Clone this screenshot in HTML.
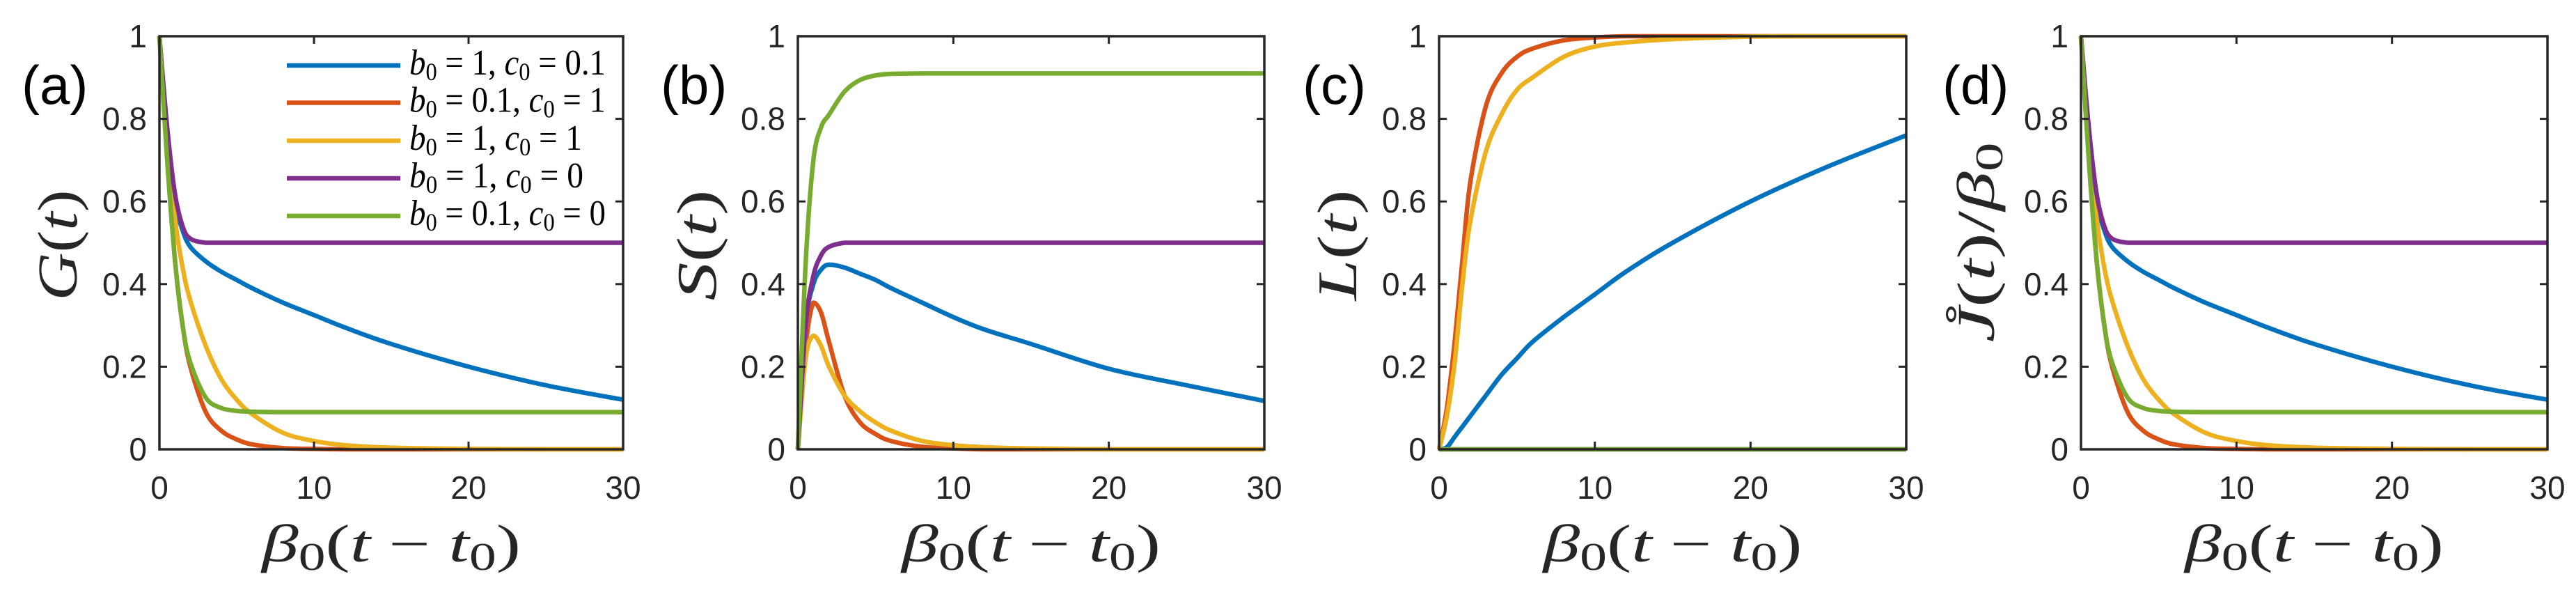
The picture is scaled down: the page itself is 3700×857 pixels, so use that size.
<!DOCTYPE html>
<html><head><meta charset="utf-8">
<style>
html,body{margin:0;padding:0;background:#fff;}
svg{display:block;}
</style></head>
<body>
<svg id="fig" width="3700" height="857" viewBox="0 0 3700 857" xmlns="http://www.w3.org/2000/svg"></svg>
<script>
// ---- data ----
const tSamples = [0,0.5,1,1.5,2,3,4,5,6,8,10,12,15,20,25,30];
const xTicks = [0,10,20,30];
const yTicks = [0,0.2,0.4,0.6,0.8,1];
const yTickLabels = ["0","0.2","0.4","0.6","0.8","1"];
const seriesNames = ["b0=1,c0=0.1","b0=0.1,c0=1","b0=1,c0=1","b0=1,c0=0","b0=0.1,c0=0"];
// Panel (a) G(t)
const gBlue   = [1,0.75,0.6,0.53,0.49,0.455,0.43,0.41,0.39,0.355,0.325,0.295,0.255,0.2,0.155,0.12];
const gRed    = [1,0.72,0.46,0.3,0.2,0.09,0.045,0.024,0.012,0.003,0.001,0,0,0,0,0];
const gYellow = [1,0.75,0.56,0.44,0.36,0.25,0.17,0.12,0.085,0.04,0.02,0.01,0.004,0.001,0,0];
const gPurple = [1,0.78,0.62,0.54,0.51,0.5,0.5,0.5,0.5,0.5,0.5,0.5,0.5,0.5,0.5,0.5];
const gGreen  = [1,0.7,0.46,0.3,0.21,0.125,0.1,0.093,0.091,0.09,0.09,0.09,0.09,0.09,0.09,0.09];
// Panel (b) S(t)
const sBlue   = [0,0.3,0.4,0.435,0.447,0.44,0.425,0.41,0.39,0.355,0.32,0.29,0.255,0.195,0.155,0.117];
const sRed    = [0,0.25,0.355,0.33,0.26,0.13,0.065,0.037,0.02,0.006,0.002,0,0,0,0,0];
const sYellow = [0,0.22,0.275,0.25,0.2,0.13,0.092,0.065,0.045,0.02,0.01,0.005,0.002,0,0,0];
const sPurple = [0,0.3,0.42,0.47,0.49,0.5,0.5,0.5,0.5,0.5,0.5,0.5,0.5,0.5,0.5,0.5];
const sGreen  = [0,0.45,0.7,0.78,0.81,0.866,0.894,0.905,0.909,0.91,0.91,0.91,0.91,0.91,0.91,0.91];
// Panel (c) L(t)
const lBlue   = [0,0.005,0.03,0.055,0.08,0.13,0.18,0.22,0.26,0.32,0.375,0.43,0.5,0.6,0.685,0.76];
const lRed    = [0,0.1,0.26,0.46,0.645,0.83,0.91,0.95,0.97,0.99,0.997,1,1,1,1,1];
const lYellow = [0,0.08,0.21,0.4,0.55,0.72,0.81,0.87,0.9,0.95,0.975,0.985,0.993,0.999,1,1];
const lPurple = [0,0,0,0,0,0,0,0,0,0,0,0,0,0,0,0];
const lGreen  = [0,0,0,0,0,0,0,0,0,0,0,0,0,0,0,0];
// Panel (d) J(t)/beta0
const jBlue   = [1,0.75,0.6,0.53,0.49,0.455,0.43,0.41,0.39,0.355,0.325,0.295,0.255,0.2,0.155,0.12];
const jRed    = [1,0.72,0.46,0.3,0.2,0.09,0.045,0.024,0.012,0.003,0.001,0,0,0,0,0];
const jYellow = [1,0.75,0.56,0.44,0.36,0.25,0.17,0.12,0.085,0.04,0.02,0.01,0.004,0.001,0,0];
const jPurple = [1,0.78,0.62,0.54,0.51,0.5,0.5,0.5,0.5,0.5,0.5,0.5,0.5,0.5,0.5,0.5];
const jGreen  = [1,0.7,0.46,0.3,0.21,0.125,0.1,0.093,0.091,0.09,0.09,0.09,0.09,0.09,0.09,0.09];

const colors = ["#0072BD","#D95319","#EDB120","#7E2F8E","#77AC30"];
const NS = "http://www.w3.org/2000/svg";
const svg = document.getElementById('fig');
function mk(tag, attrs, parent){
  const e = document.createElementNS(NS, tag);
  for (const k in attrs) e.setAttribute(k, attrs[k]);
  (parent||svg).appendChild(e);
  return e;
}
const T = 52, B = 645;
const panels = [
  {id:"a", L:229, R:895, series:[gBlue,gRed,gYellow,gPurple,gGreen], yl:"G", ylx:110, lbx:31},
  {id:"b", L:1146, R:1816, series:[sBlue,sRed,sYellow,sPurple,sGreen], yl:"S", ylx:1028, lbx:949},
  {id:"c", L:2067, R:2738, series:[lBlue,lRed,lYellow,lPurple,lGreen], yl:"L", ylx:1948, lbx:1871},
  {id:"d", L:2989, R:3659, series:[jBlue,jRed,jYellow,jPurple,jGreen], yl:"J", ylx:2864, lbx:2790}
];
function pathFrom(pts){
  let d = "M"+pts[0][0].toFixed(1)+","+pts[0][1].toFixed(1);
  for (let i=0;i<pts.length-1;i++){
    const p0=pts[Math.max(0,i-1)], p1=pts[i], p2=pts[i+1], p3=pts[Math.min(pts.length-1,i+2)];
    let c1x=p1[0]+(p2[0]-p0[0])/6, c1y=p1[1]+(p2[1]-p0[1])/6;
    let c2x=p2[0]-(p3[0]-p1[0])/6, c2y=p2[1]-(p3[1]-p1[1])/6;
    c1y=Math.min(Math.max(c1y,Math.min(p1[1],p2[1])),Math.max(p1[1],p2[1]));
    c2y=Math.min(Math.max(c2y,Math.min(p1[1],p2[1])),Math.max(p1[1],p2[1]));
    d+=" C"+c1x.toFixed(1)+","+c1y.toFixed(1)+" "+c2x.toFixed(1)+","+c2y.toFixed(1)+" "+p2[0].toFixed(1)+","+p2[1].toFixed(1);
  }
  return d;
}
const serif = '"Liberation Serif", serif';
const sans = '"Liberation Sans", sans-serif';
panels.forEach(p=>{
  const g = mk('g',{});
  
  
  const xs = v => p.L + (v/30)*(p.R-p.L);
  const ys = v => B - v*(B-T);
  p.series.forEach((arr,si)=>{
    const pts = tSamples.map((t,i)=>[xs(t), ys(arr[i])]);
    const path = mk('path',{d:pathFrom(pts), fill:"none", stroke:colors[si], "stroke-width":6.5, "stroke-linejoin":"round"}, g);
    
    
  });
  const box = mk('rect',{x:p.L,y:T,width:p.R-p.L,height:B-T,fill:"none",stroke:"#262626","stroke-width":3.5}, g);
  
  
  xTicks.forEach(v=>{
    const x=xs(v);
    mk('line',{x1:x,y1:B,x2:x,y2:B-11,stroke:"#262626","stroke-width":3},g);
    mk('line',{x1:x,y1:T,x2:x,y2:T+11,stroke:"#262626","stroke-width":3},g);
    const t = mk('text',{x:x,y:716,"text-anchor":"middle","font-family":sans,"font-size":46,fill:"#262626"},g);
    
    
    t.textContent = String(v);
  });
  yTicks.forEach((v,i)=>{
    const y=ys(v);
    mk('line',{x1:p.L,y1:y,x2:p.L+11,y2:y,stroke:"#262626","stroke-width":3},g);
    mk('line',{x1:p.R,y1:y,x2:p.R-11,y2:y,stroke:"#262626","stroke-width":3},g);
    const t = mk('text',{x:p.L-18,y:y+16,"text-anchor":"end","font-family":sans,"font-size":46,fill:"#262626"},g);
    
    
    t.textContent = yTickLabels[i];
  });
  const cx=(p.L+p.R)/2;
  const xl = mk('text',{x:cx-186,y:806,"font-family":serif,"font-size":76,fill:"#262626",textLength:372,lengthAdjust:"spacingAndGlyphs"},g);
  
  
  xl.innerHTML = '<tspan font-style="italic">β</tspan><tspan font-size="56" dy="12">0</tspan><tspan dy="-12">(</tspan><tspan font-style="italic">t</tspan> − <tspan font-style="italic">t</tspan><tspan font-size="56" dy="12">0</tspan><tspan dy="-12">)</tspan>';
  let yl;
  if (p.yl==="J"){
    yl = mk('text',{x:0,y:0,transform:"translate("+p.ylx+",348) rotate(-90)","text-anchor":"middle","font-family":serif,"font-size":76,fill:"#262626",textLength:287,lengthAdjust:"spacingAndGlyphs"},g);
    yl.innerHTML = '<tspan font-style="italic">J̊</tspan>(<tspan font-style="italic">t</tspan>)/<tspan font-style="italic">β</tspan><tspan font-size="56" dy="12">0</tspan>';
  } else {
    yl = mk('text',{x:0,y:0,transform:"translate("+p.ylx+",352) rotate(-90)","text-anchor":"middle","font-family":serif,"font-size":80,fill:"#262626",textLength:159,lengthAdjust:"spacingAndGlyphs"},g);
    yl.innerHTML = '<tspan font-style="italic">'+p.yl+'</tspan>(<tspan font-style="italic">t</tspan>)';
  }
  
  
  const pl = mk('text',{x:p.lbx,y:149,"font-family":sans,"font-size":78,fill:"#000"},g);
  
  
  pl.textContent = "("+p.id+")";
});
const legendRows = [94,147.5,202,256,310];
const legendB = ["1","0.1","1","1","0.1"];
const legendC = ["0.1","1","1","0","0"];
const legendW = [282,282,248,250,282];
const lg = mk('g',{});


legendRows.forEach((y,i)=>{
  const e = mk('g',{},lg);
  
  
  mk('line',{x1:412,y1:y,x2:575,y2:y,stroke:colors[i],"stroke-width":6.5},e);
  const t = mk('text',{x:588,y:y+13,"font-family":serif,"font-size":52,fill:"#000",textLength:legendW[i],lengthAdjust:"spacingAndGlyphs"},e);
  t.innerHTML = '<tspan font-style="italic">b</tspan><tspan font-size="36" dy="8">0</tspan><tspan dy="-8"> = '+legendB[i]+', </tspan><tspan font-style="italic">c</tspan><tspan font-size="36" dy="8">0</tspan><tspan dy="-8"> = '+legendC[i]+'</tspan>';
});
</script>
</body></html>
